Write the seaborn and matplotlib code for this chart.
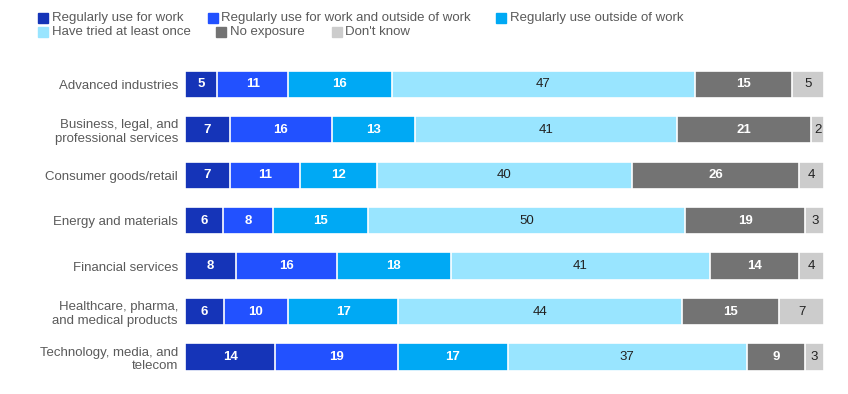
import numpy as np
import pandas as pd
import matplotlib.pyplot as plt
import seaborn as sns
from matplotlib.patches import Rectangle

# Chart data
industries = [
    "Advanced industries",
    "Business, legal, and\nprofessional services",
    "Consumer goods/retail",
    "Energy and materials",
    "Financial services",
    "Healthcare, pharma,\nand medical products",
    "Technology, media, and\ntelecom",
]
series = [
    "Regularly use for work",
    "Regularly use for work and outside of work",
    "Regularly use outside of work",
    "Have tried at least once",
    "No exposure",
    "Don't know",
]
use_work = [5, 7, 7, 6, 8, 6, 14]
use_both = [11, 16, 11, 8, 16, 10, 19]
use_outside = [16, 13, 12, 15, 18, 17, 17]
tried_once = [47, 41, 40, 50, 41, 44, 37]
no_exposure = [15, 21, 26, 19, 14, 15, 9]
dont_know = [5, 2, 4, 3, 4, 7, 3]

colors = ["#1534b8", "#2251ff", "#00a9f4", "#99e5ff", "#737373", "#cccccc"]
text_colors = ["white", "white", "white", "#222222", "white", "#222222"]

df = pd.DataFrame(
    dict(zip(series, [use_work, use_both, use_outside, tried_once, no_exposure, dont_know])),
    index=industries,
)
# rounded values don't always add to 100, so bars are scaled to full width
share = df.div(df.sum(axis=1), axis=0) * 100
cum = share.cumsum(axis=1)

sns.set_style("white")
plt.rcParams["font.family"] = ["Liberation Sans", "DejaVu Sans"]

fig = plt.figure(figsize=(8.48, 3.94), dpi=100)
ax = fig.add_axes([0.218, 0.036, 0.754, 0.808])

# draw stacked bars: largest cumulative first so smaller ones sit on top
for i in reversed(range(len(series))):
    sns.barplot(x=cum[series[i]].values, y=industries, orient="h", color=colors[i],
                width=0.6, edgecolor="white", linewidth=1.2, saturation=1, ax=ax)

# value labels
for i, s in enumerate(series):
    for j, ind in enumerate(industries):
        v = df.loc[ind, s]
        xc = cum.loc[ind, s] - share.loc[ind, s] / 2
        ax.text(xc, j, str(v), ha="center", va="center", color=text_colors[i],
                fontsize=9.5, fontweight="bold" if text_colors[i] == "white" else "normal")

ax.set_xlim(0, 100)
ax.set_ylim(6.5, -0.5)
ax.set_xlabel("")
ax.set_ylabel("")
ax.set_xticks([])
ax.tick_params(axis="y", length=0, pad=5, labelsize=9.5, labelcolor="#5a5a5a")
sns.despine(ax=ax, left=True, bottom=True)

# legend laid out in two flowing rows like the original
legend_pos = [(0.045, 0.955), (0.245, 0.955), (0.585, 0.955),
              (0.045, 0.918), (0.255, 0.918), (0.391, 0.918)]
for (lx, ly), c, s in zip(legend_pos, colors, series):
    fig.patches.append(Rectangle((lx, ly - 0.013), 0.0118, 0.026, color=c,
                                 transform=fig.transFigure, figure=fig))
    fig.text(lx + 0.016, ly, s, ha="left", va="center", fontsize=9.5, color="#5a5a5a")

fig.savefig("out.png", dpi=100)
